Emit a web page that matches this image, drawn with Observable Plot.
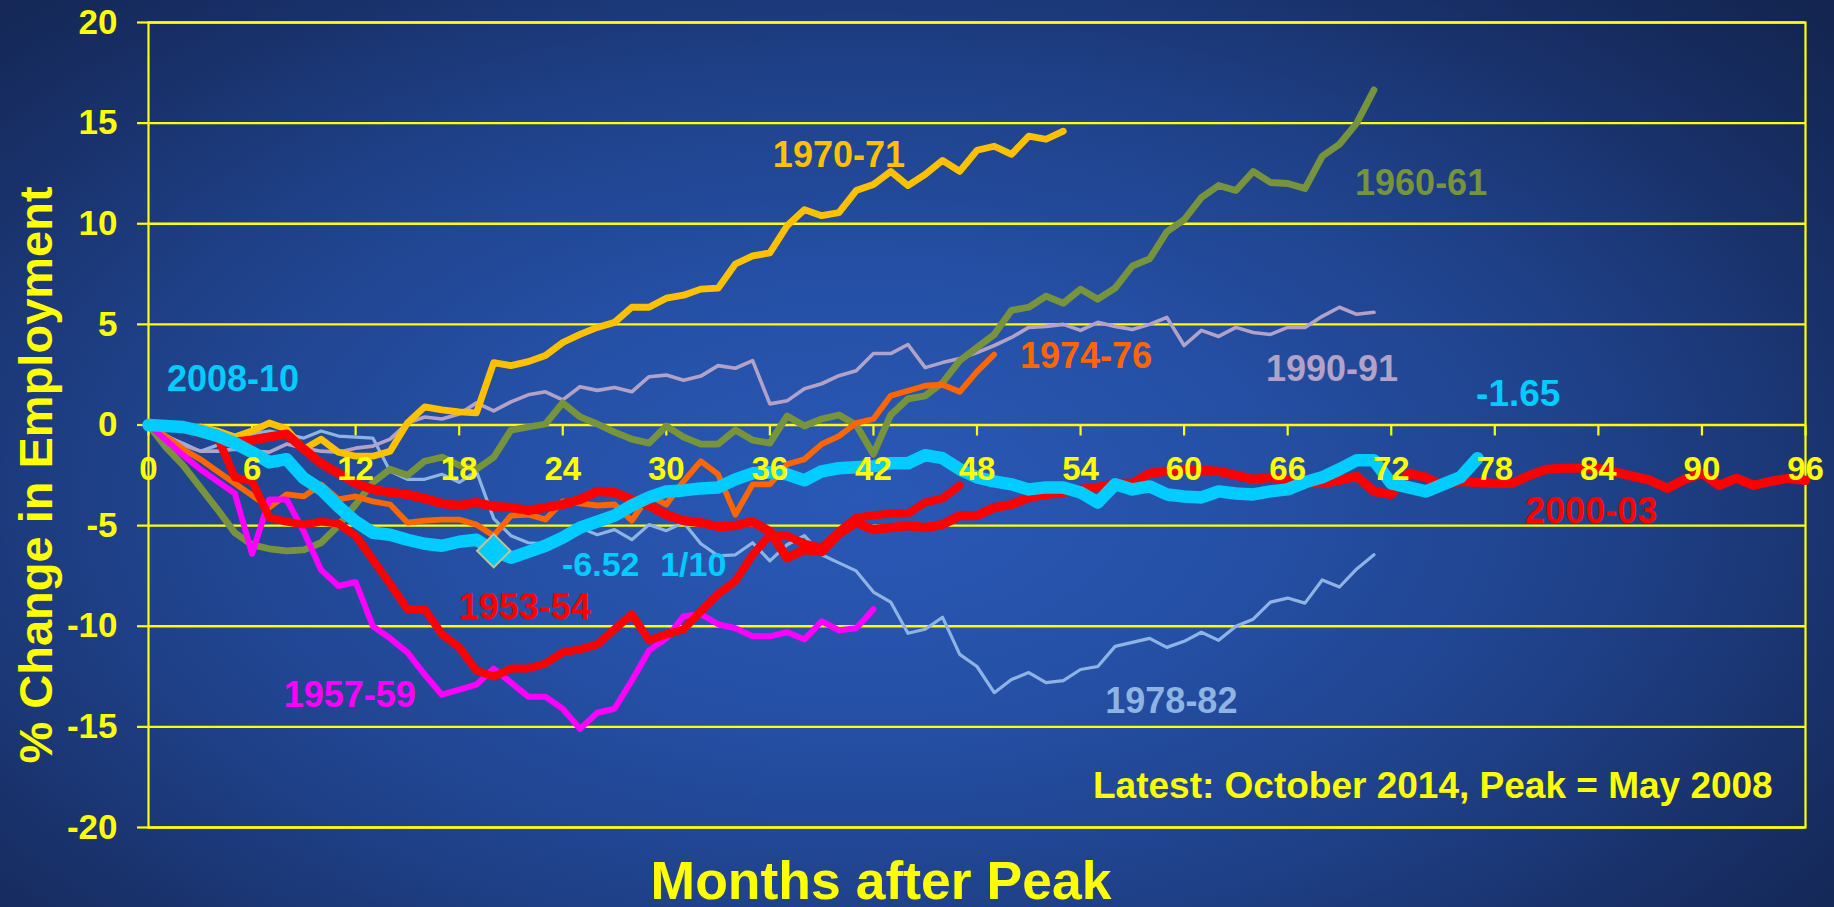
<!DOCTYPE html>
<html>
<head>
<meta charset="utf-8">
<script src="https://cdn.jsdelivr.net/npm/d3@7"></script>
<script src="https://cdn.jsdelivr.net/npm/@observablehq/plot@0.6"></script>
<style>
html, body { margin: 0; padding: 0; width: 1834px; height: 907px; overflow: hidden; }
body {
  background: radial-gradient(ellipse 70% 80% at 47% 55%, #2a58b6 0%, #2550a6 30%, #1f4189 58%, #182f66 82%, #132550 100%);
}
#chart svg { display: block; }
</style>
</head>
<body>
<div id="chart"></div>
<script>
// ---------------- data ----------------
const xTicks = [0, 6, 12, 18, 24, 30, 36, 42, 48, 54, 60, 66, 72, 78, 84, 90, 96];
const yTicks = [-20, -15, -10, -5, 0, 5, 10, 15, 20];

// % change in employment, one value per month after peak (index = month)
const v1953 = [0, -0.05, -0.1, -0.3, -0.6, -2.6, -2.8, -4.6, -4.8, -4.95, -4.8, -4.9, -5.5, -6.7, -7.9, -9.15, -9.15, -10.4, -11.05, -12.2, -12.5, -12.1, -12.1, -11.85, -11.3, -11.15, -10.9, -10.15, -9.4, -10.7, -10.4, -10.15, -9.25, -8.4, -7.75, -6.45, -5.45, -5.5, -5.9, -6.1, -5.3, -4.6, -4.5, -4.4, -4.4, -3.85, -3.65, -3.0];
const v1957 = [0, -0.75, -1.5, -2.2, -2.8, -3.4, -6.4, -3.7, -3.7, -5.3, -7.2, -8.0, -7.8, -10.0, -10.6, -11.3, -12.4, -13.4, -13.15, -12.9, -12.1, -12.8, -13.5, -13.5, -14.1, -15.1, -14.3, -14.1, -12.7, -11.2, -10.6, -9.5, -9.4, -9.9, -10.1, -10.5, -10.5, -10.3, -10.65, -9.75, -10.2, -10.1, -9.15];
const v1960 = [0, -1.1, -2.0, -3.1, -4.2, -5.35, -5.95, -6.15, -6.25, -6.2, -5.85, -5.0, -3.95, -2.85, -2.2, -2.5, -1.8, -1.6, -2.0, -2.2, -1.6, -0.25, -0.1, 0.05, 1.1, 0.4, 0.05, -0.35, -0.7, -0.9, -0.05, -0.6, -0.95, -0.95, -0.25, -0.75, -0.9, 0.45, -0.05, 0.3, 0.5, 0.0, -1.45, 0.5, 1.3, 1.45, 2.1, 3.2, 3.85, 4.5, 5.7, 5.85, 6.4, 6.05, 6.75, 6.25, 6.8, 7.9, 8.25, 9.6, 10.2, 11.3, 11.9, 11.65, 12.6, 12.05, 12.0, 11.75, 13.35, 13.95, 15.0, 16.65];
const v1970 = [0, -0.1, -0.2, -0.1, -0.3, -0.6, -0.3, 0.1, -0.2, -1.2, -0.7, -1.35, -1.55, -1.55, -1.3, 0.1, 0.9, 0.75, 0.65, 0.6, 3.1, 2.95, 3.15, 3.45, 4.1, 4.5, 4.85, 5.1, 5.85, 5.85, 6.3, 6.45, 6.75, 6.8, 8.0, 8.4, 8.55, 9.9, 10.7, 10.4, 10.55, 11.65, 11.95, 12.6, 11.9, 12.45, 13.15, 12.6, 13.65, 13.85, 13.45, 14.35, 14.2, 14.6];
const v1974 = [0, -0.55, -1.2, -1.7, -2.3, -2.9, -3.5, -4.1, -3.45, -3.55, -2.95, -3.7, -3.55, -3.8, -3.95, -4.85, -4.75, -4.7, -4.7, -4.95, -5.5, -4.5, -4.45, -4.7, -3.8, -3.9, -4.0, -3.95, -4.75, -3.5, -3.95, -2.8, -1.8, -2.45, -4.45, -2.95, -2.95, -1.95, -1.7, -0.95, -0.55, 0.1, 0.3, 1.45, 1.7, 1.95, 2.0, 1.65, 2.65, 3.5];
const v1978 = [0, -0.55, -0.9, -1.3, -1.0, -0.6, -0.45, -0.3, -0.45, -0.65, -0.3, -0.55, -0.6, -0.65, -2.3, -2.7, -2.7, -2.45, -2.85, -2.3, -4.65, -5.5, -5.85, -5.9, -5.55, -5.1, -5.45, -5.2, -5.7, -4.95, -5.25, -4.85, -5.9, -6.5, -6.45, -5.85, -6.75, -5.95, -5.5, -6.45, -6.85, -7.25, -8.3, -8.8, -10.35, -10.15, -9.55, -11.4, -12.0, -13.3, -12.65, -12.3, -12.8, -12.7, -12.15, -12.0, -11.0, -10.8, -10.6, -11.05, -10.75, -10.3, -10.7, -10.0, -9.65, -8.8, -8.6, -8.85, -7.7, -8.05, -7.15, -6.45];
const v1990 = [0, -0.5, -1.0, -1.3, -1.3, -1.2, -1.3, -1.35, -0.95, -1.15, -1.3, -1.35, -1.15, -1.05, -0.7, 0.1, 0.4, 0.3, 0.55, 1.1, 0.7, 1.15, 1.5, 1.65, 1.25, 1.9, 1.72, 1.86, 1.65, 2.4, 2.48, 2.22, 2.43, 2.95, 2.82, 3.2, 1.05, 1.2, 1.8, 2.05, 2.45, 2.7, 3.55, 3.55, 4.0, 2.85, 3.1, 3.3, 3.6, 3.95, 4.35, 4.85, 4.9, 5.0, 4.7, 5.1, 4.9, 4.75, 5.0, 5.35, 3.95, 4.7, 4.4, 4.85, 4.6, 4.5, 4.85, 4.85, 5.4, 5.85, 5.5, 5.6];
const v2000 = [0, -0.1, -0.15, -0.4, -0.6, -0.85, -0.75, -0.6, -0.45, -1.2, -1.9, -2.4, -2.9, -3.2, -3.35, -3.45, -3.65, -3.9, -4.0, -3.85, -4.05, -4.1, -4.25, -4.1, -3.95, -3.7, -3.3, -3.35, -3.7, -4.0, -4.45, -4.75, -4.85, -5.05, -5.0, -4.8, -5.3, -6.6, -6.2, -6.3, -5.4, -4.85, -5.2, -5.1, -5.0, -5.1, -4.95, -4.5, -4.5, -4.1, -3.95, -3.6, -3.45, -3.35, -3.2, -3.1, -2.9, -2.9, -2.4, -2.3, -2.2, -2.25, -2.3, -2.5, -2.7, -2.6, -2.75, -2.9, -2.9, -2.75, -2.55, -3.3, -3.45, -2.4, -2.6, -3.0, -2.8, -2.85, -2.9, -2.9, -2.5, -2.2, -2.15, -2.15, -2.15, -2.35, -2.55, -2.75, -3.15, -2.7, -2.4, -3.0, -2.65, -3.0, -2.8, -2.65, -2.75];
const v2008 = [0, -0.05, -0.1, -0.3, -0.55, -0.9, -1.35, -1.85, -1.7, -2.65, -3.2, -4.05, -4.8, -5.35, -5.45, -5.7, -5.9, -6.0, -5.8, -5.7, -6.25, -6.6, -6.3, -6.0, -5.6, -5.1, -4.8, -4.5, -4.0, -3.6, -3.3, -3.25, -3.15, -3.1, -2.7, -2.4, -2.35, -2.45, -2.75, -2.3, -2.15, -2.1, -2.05, -1.9, -1.9, -1.5, -1.65, -2.2, -2.6, -2.8, -2.95, -3.2, -3.1, -3.1, -3.35, -3.85, -2.95, -3.2, -3.05, -3.45, -3.55, -3.6, -3.3, -3.4, -3.45, -3.3, -3.2, -2.85, -2.6, -2.2, -1.75, -1.75, -2.9, -3.1, -3.3, -2.95, -2.6, -1.65];

const seriesNames = ["1978-82", "1990-91", "1970-71", "1960-61", "1974-76", "1957-59", "1953-54", "2000-03", "2008-10"];
const seriesValues = [v1978, v1990, v1970, v1960, v1974, v1957, v1953, v2000, v2008];

const troughMonth = 20;   // 1/10, marked with a diamond on the 2008-10 line

const labelTexts = ["2008-10", "1970-71", "1960-61", "1974-76", "1990-91", "-1.65", "-6.52", "1/10", "1953-54", "1957-59", "1978-82", "2000-03"];
const xTitle = "Months after Peak";
const yTitle = "% Change in Employment";
const note = "Latest: October 2014, Peak = May 2008";

// ---------------- styles / layout ----------------
const YELLOW = "#ffff00";
const CYAN = "#00ccff";
const seriesStyle = {
  "1953-54": {stroke: "#ff0000", width: 8},
  "1957-59": {stroke: "#ff00ff", width: 6},
  "1960-61": {stroke: "#77933c", width: 6.8},
  "1970-71": {stroke: "#ffc000", width: 6.8},
  "1974-76": {stroke: "#ff6600", width: 5.8},
  "1978-82": {stroke: "#8eb4e3", width: 3.2},
  "1990-91": {stroke: "#b3a2c7", width: 3.6},
  "2000-03": {stroke: "#ff0000", width: 9.2},
  "2008-10": {stroke: CYAN, width: 12.5}
};
// label anchors in data space (month, %), with colour and size
const labelLayout = {
  "2008-10": {m: 4.9, v: 2.26, fill: CYAN, size: 36},
  "1970-71": {m: 40.0, v: 13.41, fill: "#ffc000", size: 36},
  "1960-61": {m: 73.73, v: 12.0, fill: "#77933c", size: 36},
  "1974-76": {m: 54.32, v: 3.43, fill: "#ff6600", size: 36},
  "1990-91": {m: 68.57, v: 2.77, fill: "#b3a2c7", size: 36},
  "-1.65": {m: 79.36, v: 1.52, fill: CYAN, size: 37},
  "-6.52": {m: 26.2, v: -6.97, fill: CYAN, size: 34},
  "1/10": {m: 31.56, v: -6.97, fill: CYAN, size: 34},
  "1953-54": {m: 21.8, v: -9.07, fill: "#ff0000", size: 36},
  "1957-59": {m: 11.66, v: -13.43, fill: "#ff00ff", size: 36},
  "1978-82": {m: 59.26, v: -13.74, fill: "#8eb4e3", size: 36},
  "2000-03": {m: 83.58, v: -4.3, fill: "#ff0000", size: 36}
};

const W = 1834, H = 907;
const mL = 148, mR = 29, mT = 22, mB = 80;
const yPerPx = (yTicks[yTicks.length - 1] - yTicks[0]) / (H - mT - mB);
const FONT = "'Liberation Sans', Arial, Helvetica, sans-serif";

// ---------------- build ----------------
const table = seriesNames.flatMap((name, i) =>
  seriesValues[i].map((v, m) => ({series: name, month: m, value: v})));

const lineMarks = seriesNames.map(name =>
  Plot.line(table.filter(d => d.series === name), {
    x: "month", y: "value",
    stroke: seriesStyle[name].stroke,
    strokeWidth: seriesStyle[name].width,
    strokeLinejoin: "round", strokeLinecap: "round"
  }));

const labels = labelTexts.map(t => ({text: t, ...labelLayout[t]}));
const trough = [{month: troughMonth, value: v2008[troughMonth]}];

const chart = Plot.plot({
  width: W, height: H,
  marginLeft: mL, marginRight: mR, marginTop: mT, marginBottom: mB,
  style: {background: "transparent", fontFamily: FONT, color: YELLOW, overflow: "visible"},
  x: {domain: [0, 96], axis: null},
  y: {domain: [-20, 20], axis: null},
  marks: [
    Plot.ruleY(yTicks, {stroke: YELLOW, strokeWidth: 2.4}),
    Plot.frame({stroke: YELLOW, strokeWidth: 2.2}),
    Plot.axisY({ticks: yTicks, tickSize: 11, tickPadding: 20, tickFormat: d => String(d),
      fontSize: 35, fontWeight: "bold", stroke: YELLOW, fill: YELLOW, strokeWidth: 2.2, label: null}),
    Plot.ruleX(xTicks, {x: d => d, y1: 0, y2: -11 * yPerPx, stroke: YELLOW, strokeWidth: 2.2}),
    ...lineMarks,
    Plot.dot(trough, {x: "month", y: "value", symbol: "diamond2", r: 15,
      fill: CYAN, stroke: "#c9bf8e", strokeWidth: 2}),
    Plot.text(xTicks, {x: d => d, y: 0, dy: 44, text: d => String(d),
      fontSize: 33, fontWeight: "bold", fill: YELLOW}),
    Plot.text(labels, {x: "m", y: "v", text: "text", fill: "fill", fontSize: d => d.size, fontWeight: "bold"}),
    Plot.text([note], {x: 94.1, y: -17.93, text: d => d, textAnchor: "end",
      fontSize: 37, fontWeight: "bold", fill: YELLOW}),
    Plot.text([xTitle], {frameAnchor: "bottom", textAnchor: "middle", lineAnchor: "middle", dx: -96, dy: 54, text: d => d,
      fontSize: 53.5, fontWeight: "bold", fill: YELLOW}),
    Plot.text([yTitle], {frameAnchor: "left", textAnchor: "middle", lineAnchor: "middle", rotate: -90, dx: -112, dy: 50, text: d => d,
      fontSize: 47, fontWeight: "bold", fill: YELLOW})
  ]
});
document.getElementById("chart").appendChild(chart);
</script>
</body>
</html>
